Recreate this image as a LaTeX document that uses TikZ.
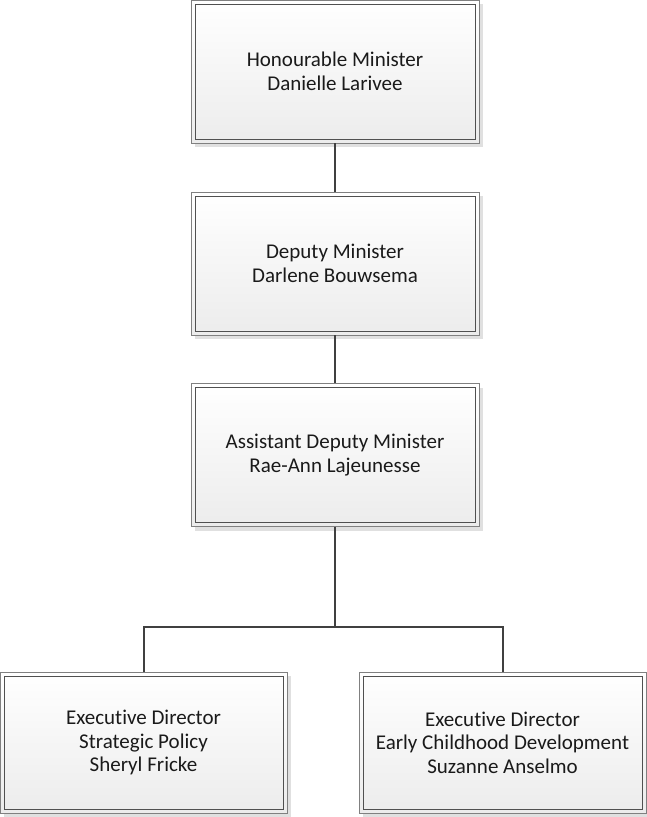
\documentclass[tikz,border=0pt]{standalone}
\usepackage{fontspec}
\setmainfont{Carlito}[Ligatures=NoCommon]
\usetikzlibrary{shadows}
\definecolor{outerline}{HTML}{808080}
\definecolor{innerline}{HTML}{505050}
\definecolor{linkline}{HTML}{404040}
\definecolor{boxbottom}{HTML}{ECECEC}
\definecolor{textcol}{HTML}{1A1A1A}
\tikzset{
  orgbox/.style={draw=outerline, line width=0.9pt, top color=white, bottom color=boxbottom,
    minimum width=288pt, minimum height=143pt, inner sep=0pt, align=center,
    text=textcol, font=\fontsize{21}{23.5}\selectfont,
    drop shadow={shadow xshift=4pt, shadow yshift=-4pt, fill=black, opacity=0.12}},
  innerframe/.style={draw=innerline, line width=0.9pt},
  link/.style={draw=linkline, line width=2pt}
}
\begin{document}
\begin{tikzpicture}[x=1pt,y=-1pt]
\useasboundingbox (0,0) rectangle (647,817);
% chain of command
\node[orgbox] (minister) at (335,71.5) {Honourable Minister\\Danielle Larivee};
\node[orgbox] (deputy) at (335,263.5) {Deputy Minister\\Darlene Bouwsema};
\node[orgbox] (adm) at (335,455) {Assistant Deputy Minister\\Rae-Ann Lajeunesse};
\node[orgbox, minimum width=287pt, minimum height=141pt] (policy) at (143.5,742.5)
  {Executive Director\\Strategic Policy\\Sheryl Fricke};
\node[orgbox, minimum width=287pt, minimum height=141pt] (ecd) at (502.5,742.5)
  {Executive Director\\Early Childhood Development\\Suzanne Anselmo};
% inner frames
\foreach \n in {minister,deputy,adm,policy,ecd}
  \draw[innerframe] ([xshift=4.5pt,yshift=-4.5pt]\n.north west) rectangle ([xshift=-4.5pt,yshift=4.5pt]\n.south east);
% connectors
\coordinate (bus) at (335,627);
\draw[link] (minister.south) -- (deputy.north);
\draw[link] (deputy.south) -- (adm.north);
\draw[link] (adm.south) -- (bus);
\draw[link] (bus) -| (policy.north);
\draw[link] (bus) -| (ecd.north);
\end{tikzpicture}
\end{document}
